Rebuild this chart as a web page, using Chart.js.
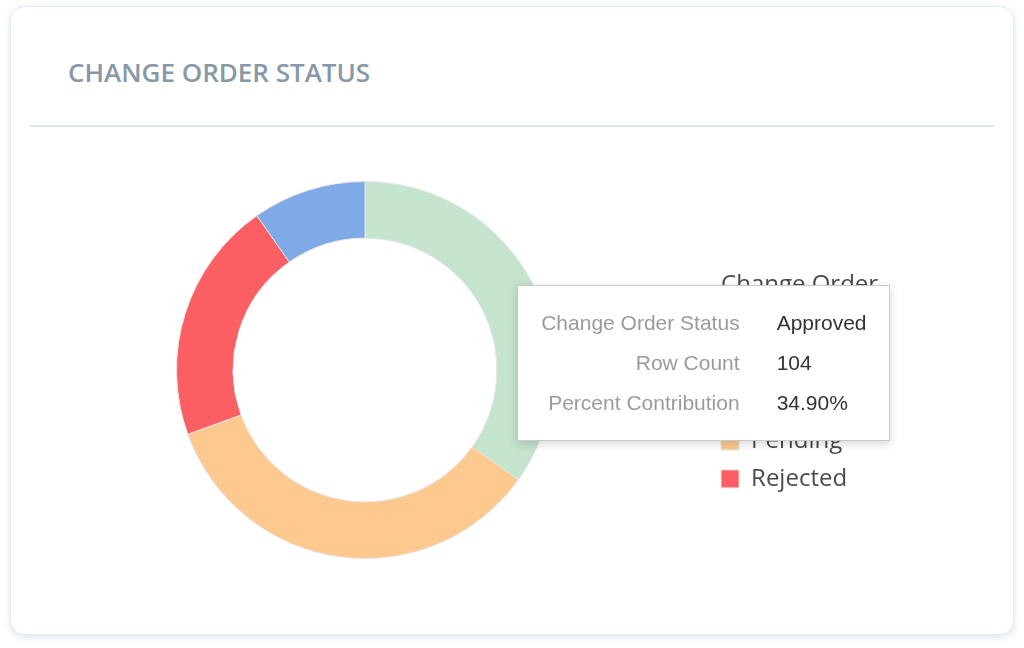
<!DOCTYPE html>
<html>
<head>
<meta charset="utf-8">
<script src="https://cdn.jsdelivr.net/npm/chart.js@4.4.0/dist/chart.umd.min.js"></script>
<style>
  html, body { margin: 0; padding: 0; background: #ffffff; }
  body { width: 1024px; height: 648px; position: relative; overflow: hidden; font-family: "Open Sans", sans-serif; }
  .card { position: absolute; left: 10px; top: 6px; width: 1004px; height: 629px; box-sizing: border-box;
          border: 1px solid #e3eaf2; border-radius: 14px; background: #fff;
          box-shadow: 0 2px 7px rgba(170,195,225,0.45); }
  .title { position: absolute; left: 68px; top: 54px; font: 600 26px "Open Sans", sans-serif; color: #8898a6; }
  .sep { position: absolute; left: 30px; top: 125px; width: 964px; height: 2px; background: #dfe6ee; }
  .chart-wrap { position: absolute; left: 23px; top: 181px; width: 887px; height: 378px; }
  #tip { position: absolute; display: none; box-sizing: border-box; width: 373px; height: 156px; background: #fff;
         border: 1px solid #c9c9c9; box-shadow: 0 3px 9px rgba(0,0,0,0.16); padding: 17px 22px 18px 22px;
         font: 21px "Liberation Sans", Arial, sans-serif; z-index: 10; }
  #tip table { border-collapse: collapse; }
  #tip td { height: 40px; padding: 0; white-space: nowrap; vertical-align: middle; }
  #tip td.k { width: 205px; text-align: right; color: #9b9b9b; padding-right: 37px; }
  #tip td.v { text-align: left; color: #333; }
</style>
</head>
<body>
<div class="card"></div>
<div class="title">CHANGE ORDER STATUS</div>
<div class="sep"></div>
<div class="chart-wrap" id="wrap"><canvas id="c"></canvas></div>
<div id="tip"></div>
<script>
const categories = ["Approved", "Pending", "Rejected", "Draft"];
const rowCounts = [104, 103, 62, 29];
const sliceColors = ["#c4e4ce", "#fec98f", "#fb5f63", "#7eaae8"];
const legendTitle = ["Change Order", "Status"];
const tooltipFields = ["Change Order Status", "Row Count", "Percent Contribution"];

const total = rowCounts.reduce((a, b) => a + b, 0);
const legendFont = { family: '"Open Sans", sans-serif', size: 24 };
const legendColor = '#4a4a4a';

function externalTooltip(context) {
  const tip = document.getElementById('tip');
  const t = context.tooltip;
  if (!t.dataPoints || !t.dataPoints.length || t.opacity === 0) { tip.style.display = 'none'; return; }
  const i = t.dataPoints[0].dataIndex;
  const pct = (rowCounts[i] / total * 100).toFixed(2) + '%';
  const vals = [categories[i], String(rowCounts[i]), pct];
  let html = '<table>';
  tooltipFields.forEach((f, k) => { html += '<tr><td class="k">' + f + '</td><td class="v">' + vals[k] + '</td></tr>'; });
  html += '</table>';
  tip.innerHTML = html;
  const wrap = document.getElementById('wrap');
  tip.style.left = (wrap.offsetLeft + t.caretX + 9) + 'px';
  tip.style.top = (wrap.offsetTop + t.caretY - 12) + 'px';
  tip.style.display = 'block';
}

// draws the legend title aligned with the legend boxes
const legendTitlePlugin = {
  id: 'legendTitleAligned',
  afterDraw(chart) {
    const lg = chart.legend;
    if (!lg || !lg.legendHitBoxes || !lg.legendHitBoxes.length) return;
    const ctx = chart.ctx;
    const pad = lg.options.labels.padding;
    const x = lg.left + pad;
    const lh = legendFont.size * 1.2;
    let y = lg.legendHitBoxes[0].top - 61;
    ctx.save();
    ctx.font = legendFont.size + 'px ' + legendFont.family;
    ctx.fillStyle = legendColor;
    ctx.textAlign = 'left';
    ctx.textBaseline = 'alphabetic';
    legendTitle.forEach((line, k) => ctx.fillText(line, x, y + k * lh));
    ctx.restore();
  }
};

const chart = new Chart(document.getElementById('c'), {
  type: 'doughnut',
  data: {
    labels: categories,
    datasets: [{
      data: rowCounts,
      backgroundColor: sliceColors,
      hoverBackgroundColor: sliceColors,
      borderColor: '#e4e4e4',
      hoverBorderColor: '#e4e4e4',
      borderWidth: 1,
      hoverOffset: 0
    }]
  },
  options: {
    responsive: true,
    maintainAspectRatio: false,
    animation: false,
    events: [],
    cutout: '70%',
    layout: { padding: { left: 0, top: 0, bottom: 0, right: 40 } },
    plugins: {
      legend: {
        position: 'right',
        align: 'center',
        title: {
          display: true,
          text: legendTitle,
          position: 'start',
          color: 'rgba(0,0,0,0)',
          font: legendFont,
          padding: { top: 37, bottom: 38 }
        },
        labels: {
          boxWidth: 18,
          boxHeight: 18,
          padding: 14,
          color: legendColor,
          font: legendFont,
          sort: (a, b) => a.text.localeCompare(b.text)
        }
      },
      tooltip: { enabled: false, external: externalTooltip }
    }
  },
  plugins: [legendTitlePlugin]
});
chart.tooltip.setActiveElements([{ datasetIndex: 0, index: 0 }], { x: 0, y: 0 });
</script>
</body>
</html>
